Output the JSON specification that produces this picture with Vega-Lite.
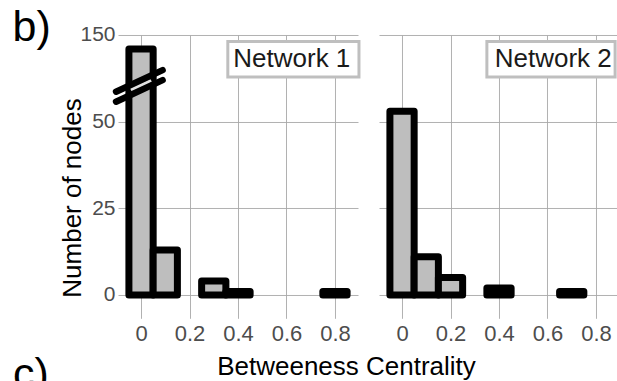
{
  "$schema": "https://vega.github.io/schema/vega-lite/v6.json",
  "autosize": {"type": "pad"},
  "padding": {"left": 12, "top": 7, "right": 0, "bottom": 0},
  "background": "white",
  "spacing": 21,
  "bounds": "flush",
  "datasets": {
    "bins": [
      {"network": "Network 1", "bin_lo": -0.05, "bin_hi": 0.05, "count": 146},
      {"network": "Network 1", "bin_lo": 0.05, "bin_hi": 0.15, "count": 13},
      {"network": "Network 1", "bin_lo": 0.25, "bin_hi": 0.35, "count": 4},
      {"network": "Network 1", "bin_lo": 0.35, "bin_hi": 0.45, "count": 1},
      {"network": "Network 1", "bin_lo": 0.75, "bin_hi": 0.85, "count": 1},
      {"network": "Network 2", "bin_lo": -0.05, "bin_hi": 0.05, "count": 53},
      {"network": "Network 2", "bin_lo": 0.05, "bin_hi": 0.15, "count": 11},
      {"network": "Network 2", "bin_lo": 0.15, "bin_hi": 0.25, "count": 5},
      {"network": "Network 2", "bin_lo": 0.35, "bin_hi": 0.45, "count": 2},
      {"network": "Network 2", "bin_lo": 0.65, "bin_hi": 0.75, "count": 1}
    ],
    "labels": [
      {"network": "Network 1", "tag": "b)", "next_tag": "c)"},
      {"network": "Network 2", "tag": "", "next_tag": ""}
    ]
  },
  "config": {
    "view": {"stroke": null},
    "font": "Liberation Sans",
    "axis": {
      "domain": false,
      "ticks": false,
      "grid": true,
      "gridColor": "#a8a8a8",
      "gridWidth": 0.9,
      "labelFont": "Liberation Sans",
      "labelColor": "#4d4d4d",
      "titleFont": "Liberation Sans",
      "titleColor": "#000000",
      "titleFontWeight": "normal",
      "labelOverlap": false,
      "labelFlush": false
    }
  },
  "hconcat": [
    {
      "width": 240,
      "height": 283.3,
      "layer": [
        {
          "data": {"name": "bins"},
          "transform": [{"filter": "datum.network == 'Network 1'"}],
          "mark": {"type": "bar", "fill": "#bebebe", "stroke": "#000000", "strokeWidth": 7, "strokeJoin": "round"},
          "encoding": {
            "x": {
              "field": "bin_lo", "type": "quantitative",
              "scale": {"domain": [-0.095, 0.895], "nice": false, "zero": false},
              "axis": {
                "values": [0, 0.1, 0.2, 0.3, 0.4, 0.5, 0.6, 0.7, 0.8],
                "labelExpr": "datum.value == 0 ? '0' : (round(datum.value * 10) % 2 == 0 ? format(datum.value, '.1f') : '')",
                "labelFontSize": 22,
                "labelPadding": 5,
                "title": "Betweeness Centrality",
                "titleFontSize": 26,
                "titleX": 228,
                "titleY": 56,
                "titleAlign": "center",
                "titleBaseline": "alphabetic"
              }
            },
            "x2": {"field": "bin_hi"},
            "y": {
              "field": "count", "type": "quantitative",
              "scale": {"type": "linear", "domain": [-6.75, 60, 135, 150], "range": [283.3, 52.1, 52.1, 0], "nice": false, "zero": false},
              "axis": {
                "values": [0, 25, 50, 150],
                "labelFontSize": 21,
                "labelPadding": 3,
                "title": "Number of nodes",
                "titleFontSize": 26,
                "titleX": -38,
                "titleY": 162.5,
                "titleAngle": -90,
                "titleAlign": "center",
                "titleBaseline": "alphabetic"
              }
            },
            "y2": {"datum": 0}
          }
        },
        {
          "data": {"name": "labels"},
          "transform": [{"filter": "datum.network == 'Network 1'"}],
          "mark": {"type": "rule", "stroke": "#e2e2e2", "strokeWidth": 3.5},
          "encoding": {
            "x": {"datum": -0.042, "type": "quantitative"},
            "x2": {"datum": 0.042},
            "y": {"datum": 59.2, "type": "quantitative"},
            "y2": {"datum": 136.9}
          }
        },
        {
          "data": {"name": "labels"},
          "transform": [{"filter": "datum.network == 'Network 1'"}],
          "mark": {"type": "rule", "stroke": "#000000", "strokeWidth": 6.5, "strokeCap": "round"},
          "encoding": {
            "x": {"datum": -0.103, "type": "quantitative"},
            "x2": {"datum": 0.089},
            "y": {"datum": 58.67, "type": "quantitative"},
            "y2": {"datum": 139.9}
          }
        },
        {
          "data": {"name": "labels"},
          "transform": [{"filter": "datum.network == 'Network 1'"}],
          "mark": {"type": "rule", "stroke": "#000000", "strokeWidth": 6.5, "strokeCap": "round"},
          "encoding": {
            "x": {"datum": -0.103, "type": "quantitative"},
            "x2": {"datum": 0.089},
            "y": {"datum": 55.78, "type": "quantitative"},
            "y2": {"datum": 137.0}
          }
        },
        {
          "data": {"name": "labels"},
          "transform": [{"filter": "datum.network == 'Network 1'"}],
          "mark": {"type": "rect", "fill": "#ffffff", "stroke": "#bfbfbf", "strokeWidth": 3},
          "encoding": {
            "x": {"datum": 0.358, "type": "quantitative"},
            "x2": {"datum": 0.899},
            "y": {"datum": 148.1, "type": "quantitative"},
            "y2": {"datum": 137.9}
          }
        },
        {
          "data": {"name": "labels"},
          "transform": [{"filter": "datum.network == 'Network 1'"}],
          "mark": {"type": "text", "fontSize": 26, "align": "center", "baseline": "alphabetic", "color": "#1a1a1a"},
          "encoding": {
            "x": {"datum": 0.622, "type": "quantitative"},
            "y": {"datum": 140.65, "type": "quantitative"},
            "text": {"field": "network"}
          }
        },
        {
          "data": {"name": "labels"},
          "transform": [{"filter": "datum.network == 'Network 1'"}],
          "mark": {"type": "text", "fontSize": 43, "align": "left", "baseline": "alphabetic", "color": "#000000"},
          "encoding": {
            "x": {"datum": -0.53, "type": "quantitative"},
            "y": {"datum": 148.24, "type": "quantitative"},
            "text": {"field": "tag"}
          }
        },
        {
          "data": {"name": "labels"},
          "transform": [{"filter": "datum.network == 'Network 1'"}],
          "mark": {"type": "text", "fontSize": 43, "align": "left", "baseline": "alphabetic", "color": "#000000"},
          "encoding": {
            "x": {"datum": -0.528, "type": "quantitative"},
            "y": {"datum": -26.8, "type": "quantitative"},
            "text": {"field": "next_tag"}
          }
        }
      ]
    },
    {
      "width": 240,
      "height": 283.3,
      "layer": [
        {
          "data": {"name": "bins"},
          "transform": [{"filter": "datum.network == 'Network 2'"}],
          "mark": {"type": "bar", "fill": "#bebebe", "stroke": "#000000", "strokeWidth": 7, "strokeJoin": "round"},
          "encoding": {
            "x": {
              "field": "bin_lo", "type": "quantitative",
              "scale": {"domain": [-0.095, 0.895], "nice": false, "zero": false},
              "axis": {
                "values": [0, 0.1, 0.2, 0.3, 0.4, 0.5, 0.6, 0.7, 0.8],
                "labelExpr": "datum.value == 0 ? '0' : (round(datum.value * 10) % 2 == 0 ? format(datum.value, '.1f') : '')",
                "labelFontSize": 22,
                "labelPadding": 5,
                "title": null
              }
            },
            "x2": {"field": "bin_hi"},
            "y": {
              "field": "count", "type": "quantitative",
              "scale": {"type": "linear", "domain": [-6.75, 60, 135, 150], "range": [283.3, 52.1, 52.1, 0], "nice": false, "zero": false},
              "axis": {
                "values": [0, 25, 50, 150],
                "labels": false,
                "title": null
              }
            },
            "y2": {"datum": 0}
          }
        },
        {
          "data": {"name": "labels"},
          "transform": [{"filter": "datum.network == 'Network 2'"}],
          "mark": {"type": "rect", "fill": "#ffffff", "stroke": "#bfbfbf", "strokeWidth": 3},
          "encoding": {
            "x": {"datum": 0.35, "type": "quantitative"},
            "x2": {"datum": 0.879},
            "y": {"datum": 148.1, "type": "quantitative"},
            "y2": {"datum": 137.9}
          }
        },
        {
          "data": {"name": "labels"},
          "transform": [{"filter": "datum.network == 'Network 2'"}],
          "mark": {"type": "text", "fontSize": 26, "align": "center", "baseline": "alphabetic", "color": "#1a1a1a"},
          "encoding": {
            "x": {"datum": 0.624, "type": "quantitative"},
            "y": {"datum": 140.65, "type": "quantitative"},
            "text": {"field": "network"}
          }
        }
      ]
    }
  ]
}
